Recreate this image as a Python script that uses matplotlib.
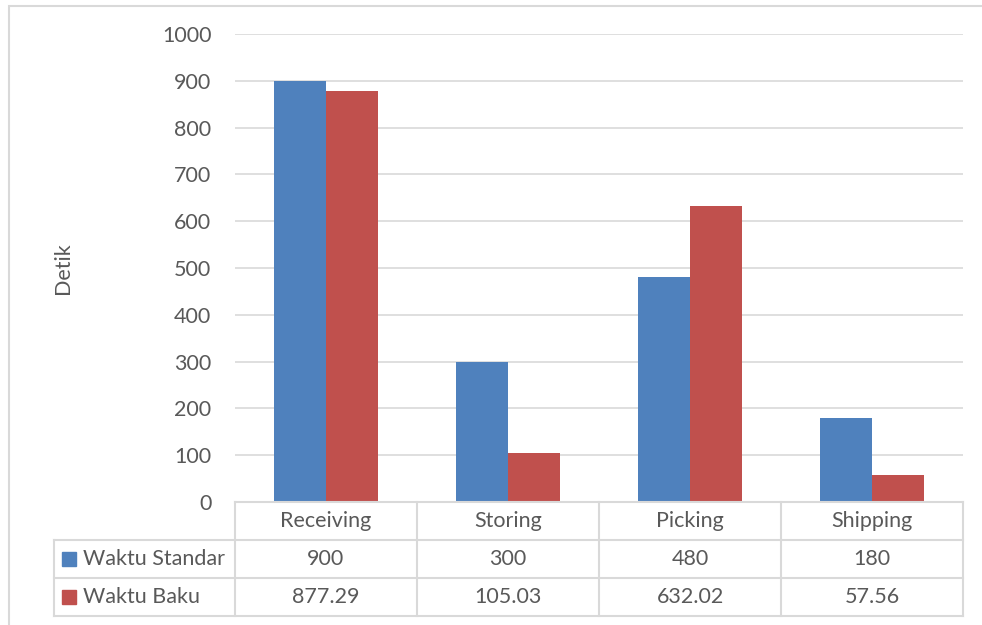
import matplotlib.pyplot as plt
from matplotlib.patches import Rectangle

plt.rcParams['font.family'] = ['Lato', 'DejaVu Sans']

# data
categories = ["Receiving", "Storing", "Picking", "Shipping"]
series_names = ["Waktu Standar", "Waktu Baku"]
waktu_standar = [900, 300, 480, 180]
waktu_baku = [877.29, 105.03, 632.02, 57.56]
standar_labels = ["900", "300", "480", "180"]
baku_labels = ["877.29", "105.03", "632.02", "57.56"]
yticks = [0, 100, 200, 300, 400, 500, 600, 700, 800, 900, 1000]

blue = '#4f81bd'
red = '#c0504d'
grid_col = '#d9d9d9'
text_col = '#595959'
fs = 15.5

W, H = 982, 625
fig = plt.figure(figsize=(W / 100, H / 100), dpi=100)
ax = fig.add_axes([235 / W, 1 - 502 / H, 728 / W, 468 / H])

x = list(range(len(categories)))
bw = 0.285
ax.bar([i - bw / 2 for i in x], waktu_standar, width=bw, color=blue, zorder=2)
ax.bar([i + bw / 2 for i in x], waktu_baku, width=bw, color=red, zorder=2)

ax.set_xlim(-0.5, len(categories) - 0.5)
ax.set_ylim(0, 1000)
ax.set_yticks(yticks)
ax.set_xticks([])
ax.tick_params(axis='y', length=0, pad=17, labelsize=fs, labelcolor=text_col)
ax.yaxis.grid(True, color=grid_col, lw=1.2)
ax.set_axisbelow(True)
for s in ax.spines.values():
    s.set_visible(False)

ax.set_ylabel("Detik", fontsize=fs, color=text_col)
ax.yaxis.set_label_coords(-0.223, 0.5)

# data table below the plot (x in data units, y in axes fraction)
tr = ax.get_xaxis_transform()
row_h = 38 / 468
left = -0.5 - 181 / 182
right = len(categories) - 0.5
line_kw = dict(color=grid_col, lw=1.5, transform=tr, clip_on=False)

ax.plot([-0.5, right], [0, 0], **line_kw)
for r in range(1, 4):
    ax.plot([left, right], [-r * row_h, -r * row_h], **line_kw)
for i in range(len(categories) + 1):
    ax.plot([i - 0.5, i - 0.5], [0, -3 * row_h], **line_kw)
ax.plot([left, left], [-row_h, -3 * row_h], **line_kw)

for i, cat in enumerate(categories):
    ax.text(i, -0.5 * row_h, cat, transform=tr, ha='center', va='center',
            fontsize=fs, color=text_col)
    ax.text(i, -1.5 * row_h, standar_labels[i], transform=tr, ha='center',
            va='center', fontsize=fs, color=text_col)
    ax.text(i, -2.5 * row_h, baku_labels[i], transform=tr, ha='center',
            va='center', fontsize=fs, color=text_col)

key_x = -0.5 - 166 / 182
txt_x = -0.5 - 152 / 182
for r, (name, col) in enumerate(zip(series_names, [blue, red])):
    yy = -(1.5 + r) * row_h
    ax.plot([key_x], [yy], marker='s', markersize=10, color=col,
            transform=tr, clip_on=False, ls='none')
    ax.text(txt_x, yy, name, transform=tr, ha='left', va='center',
            fontsize=fs, color=text_col)

# outer chart border
fig.patches.append(Rectangle((9 / W, -0.1), 1.2, 1.1 - 6 / H, transform=fig.transFigure,
                             fill=False, edgecolor=grid_col, lw=1.5))

fig.savefig("out.png", dpi=100)
